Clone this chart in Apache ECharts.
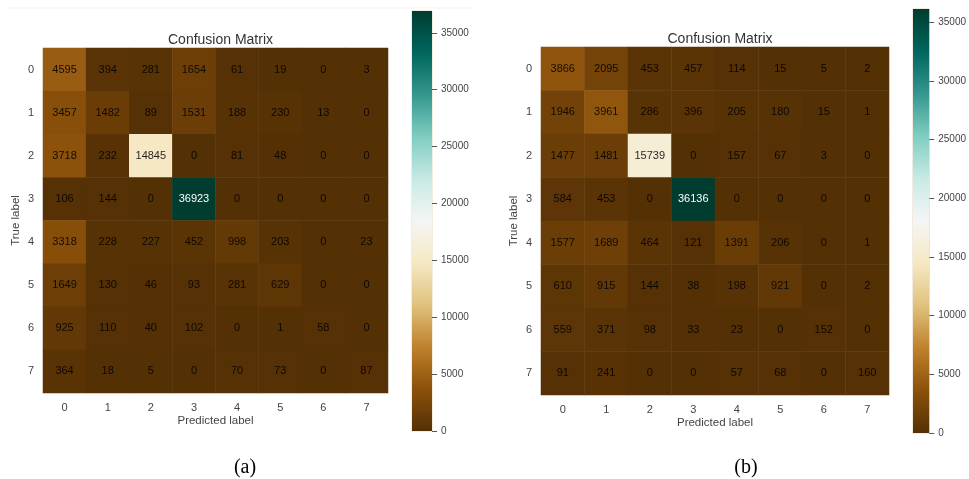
<!DOCTYPE html>
<html>
<head>
<meta charset="utf-8">
<script src="https://cdn.jsdelivr.net/npm/echarts@6/dist/echarts.min.js"></script>
<style>
html,body{margin:0;padding:0;background:#fff;}
#c{width:969px;height:479px;}
</style>
</head>
<body>
<div id="c"></div>
<script>
const labels = ['0','1','2','3','4','5','6','7'];
const matrixA = [
  [4595, 394, 281, 1654, 61, 19, 0, 3],
  [3457, 1482, 89, 1531, 188, 230, 13, 0],
  [3718, 232, 14845, 0, 81, 48, 0, 0],
  [106, 144, 0, 36923, 0, 0, 0, 0],
  [3318, 228, 227, 452, 998, 203, 0, 23],
  [1649, 130, 46, 93, 281, 629, 0, 0],
  [925, 110, 40, 102, 0, 1, 58, 0],
  [364, 18, 5, 0, 70, 73, 0, 87]
];
const matrixB = [
  [3866, 2095, 453, 457, 114, 15, 5, 2],
  [1946, 3961, 286, 396, 205, 180, 15, 1],
  [1477, 1481, 15739, 0, 157, 67, 3, 0],
  [584, 453, 0, 36136, 0, 0, 0, 0],
  [1577, 1689, 464, 121, 1391, 206, 0, 1],
  [610, 915, 144, 38, 198, 921, 0, 2],
  [559, 371, 98, 33, 23, 0, 152, 0],
  [91, 241, 0, 0, 57, 68, 0, 160]
];
const colorbarTicks = [0, 5000, 10000, 15000, 20000, 25000, 30000, 35000];
const brbg = ['#543005','#8c510a','#bf812d','#dfc27d','#f6e8c3','#f5f5f5','#c7eae5','#80cdc1','#35978f','#01665e','#003c30'];

const maxOf = m => Math.max(...m.flat());
const maxA = maxOf(matrixA), maxB = maxOf(matrixB);

function cells(m, mx) {
  const out = [];
  m.forEach((row, i) => row.forEach((v, j) => {
    out.push({value: [j, i, v], label: {color: v > 0.7 * mx ? '#ffffff' : 'rgba(0,0,0,0.85)'}});
  }));
  return out;
}

const font = 'Liberation Sans, Arial, sans-serif';
const panels = [
  {grid: {left: 43, top: 48, width: 345, height: 345}, cb: {left: 412, top: 11, width: 20, height: 420}, m: matrixA, mx: maxA, cap: '(a)', capX: 240},
  {grid: {left: 541, top: 47, width: 348, height: 348}, cb: {left: 913, top: 9, width: 20, height: 424}, m: matrixB, mx: maxB, cap: '(b)', capX: 741}
];

const option = {
  backgroundColor: '#ffffff',
  animation: false,
  textStyle: {fontFamily: font},
  title: [],
  grid: [], xAxis: [], yAxis: [], series: [], visualMap: [],
  graphic: [
    {type: 'line', shape: {x1: 6, y1: 8, x2: 473, y2: 8}, style: {stroke: '#f3f3f3', lineWidth: 1}, silent: true}
  ]
};

panels.forEach((p, k) => {
  const g = option.grid.length;
  option.grid.push(Object.assign({containLabel: false}, p.grid));
  option.grid.push(Object.assign({show: true, borderColor: '#e3d7c3', borderWidth: 1, containLabel: false}, p.cb));
  option.title.push({
    text: 'Confusion Matrix',
    left: p.grid.left + p.grid.width / 2, top: p.grid.top - 20, textAlign: 'center',
    textStyle: {fontSize: 14, fontWeight: 'normal', color: '#333333', fontFamily: font}
  });
  option.title.push({
    text: p.cap, left: p.capX, top: 453, textAlign: 'center',
    textStyle: {fontSize: 20, fontWeight: 'normal', color: '#000000', fontFamily: 'Liberation Serif, Times New Roman, serif'}
  });
  option.xAxis.push({
    type: 'category', gridIndex: g, data: labels, position: 'bottom',
    name: 'Predicted label', nameLocation: 'middle', nameGap: 22, nameMoveOverlap: false,
    nameTextStyle: {fontSize: 11.5, color: '#444444', fontFamily: font},
    axisLine: {show: false}, axisTick: {show: false}, splitLine: {show: false},
    axisLabel: {fontSize: 11, color: '#444444', margin: 9, fontFamily: font}
  });
  option.yAxis.push({
    type: 'category', gridIndex: g, data: labels, inverse: true,
    name: 'True label', nameLocation: 'middle', nameGap: 21, nameRotate: 90, nameMoveOverlap: false,
    nameTextStyle: {fontSize: 11.5, color: '#444444', fontFamily: font},
    axisLine: {show: false}, axisTick: {show: false}, splitLine: {show: false},
    axisLabel: {fontSize: 11, color: '#444444', margin: 9, fontFamily: font}
  });
  option.xAxis.push({
    type: 'category', gridIndex: g + 1, data: [''],
    axisLine: {show: false}, axisTick: {show: false}, axisLabel: {show: false}, splitLine: {show: false}
  });
  option.yAxis.push({
    type: 'value', gridIndex: g + 1, min: 0, max: p.mx, position: 'right',
    axisLine: {show: false}, splitLine: {show: false},
    axisTick: {show: true, length: 5, customValues: colorbarTicks, lineStyle: {color: '#555555', width: 1}},
    axisLabel: {fontSize: 10, color: '#444444', margin: 9, customValues: colorbarTicks, fontFamily: font,
      formatter: v => String(v)}
  });
  const si = option.series.length;
  option.series.push({
    type: 'heatmap', xAxisIndex: g, yAxisIndex: g,
    data: cells(p.m, p.mx),
    label: {show: true, fontSize: 11, fontFamily: font},
    itemStyle: {borderWidth: 0},
    emphasis: {disabled: true}
  });
  option.visualMap.push({
    show: false, type: 'continuous', seriesIndex: si, min: 0, max: p.mx, dimension: 2,
    inRange: {color: brbg}
  });
  option.series.push({
    type: 'bar', xAxisIndex: g + 1, yAxisIndex: g + 1,
    data: [p.mx], barWidth: '100%', silent: true,
    itemStyle: {
      color: new echarts.graphic.LinearGradient(0, 1, 0, 0,
        brbg.map((c, i) => ({offset: i / (brbg.length - 1), color: c})))
    }
  });
});

const chart = echarts.init(document.getElementById('c'), null, {renderer: 'canvas'});
chart.setOption(option);
</script>
</body>
</html>
